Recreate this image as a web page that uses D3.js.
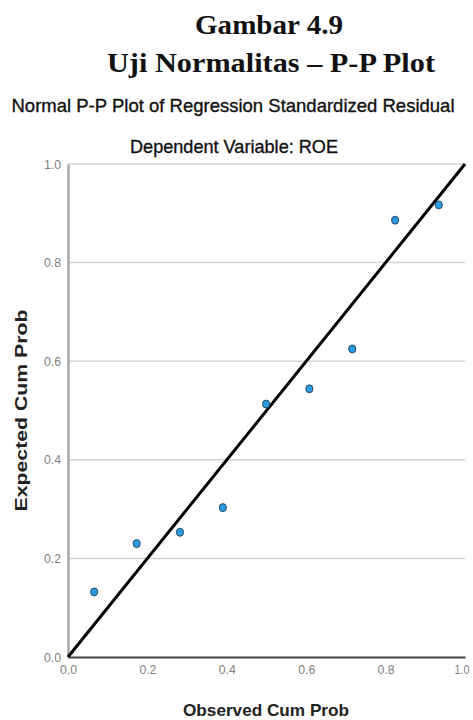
<!DOCTYPE html>
<html>
<head>
<meta charset="utf-8">
<script src="https://cdn.jsdelivr.net/npm/d3@7/dist/d3.min.js"></script>
<style>
  html, body { margin: 0; padding: 0; background: #fff; }
  svg { display: block; }
</style>
</head>
<body>
<svg id="chart" width="473" height="720"></svg>
<script>
// Data
const observedCumProb = [0.066, 0.173, 0.282, 0.390, 0.499, 0.608, 0.716, 0.824, 0.934];
const expectedCumProb = [0.132, 0.230, 0.253, 0.303, 0.513, 0.544, 0.625, 0.886, 0.917];
const xTicks = [0.0, 0.2, 0.4, 0.6, 0.8, 1.0];
const yTicks = [0.0, 0.2, 0.4, 0.6, 0.8, 1.0];
const diagonal = [[0, 0], [1, 1]];

const svg = d3.select("#chart");
const mLeft = 68, mRight = 465, mTop = 164, mBottom = 657;

const x = d3.scaleLinear().domain([0, 1]).range([mLeft, mRight]);
const y = d3.scaleLinear().domain([0, 1]).range([mBottom, mTop]);
const fmt = d3.format(".1f");
const sans = "'Liberation Sans', Arial, sans-serif";
const serif = "'Liberation Serif', 'Times New Roman', serif";

// Titles
svg.append("text").attr("x", 269).attr("y", 34)
  .attr("text-anchor", "middle")
  .attr("textLength", 148).attr("lengthAdjust", "spacingAndGlyphs")
  .style("font-family", serif)
  .style("font-weight", "bold").style("font-size", "27px")
  .attr("fill", "#111").text("Gambar 4.9");
svg.append("text").attr("x", 271).attr("y", 72)
  .attr("text-anchor", "middle")
  .attr("textLength", 328).attr("lengthAdjust", "spacingAndGlyphs")
  .style("font-family", serif)
  .style("font-weight", "bold").style("font-size", "27px")
  .attr("fill", "#111").text("Uji Normalitas – P-P Plot");

svg.append("text").attr("x", 233).attr("y", 112)
  .attr("text-anchor", "middle")
  .attr("textLength", 443).attr("lengthAdjust", "spacingAndGlyphs")
  .style("font-family", sans)
  .style("font-size", "19px").attr("fill", "#111")
  .attr("stroke", "#111").attr("stroke-width", 0.35)
  .text("Normal P-P Plot of Regression Standardized Residual");
svg.append("text").attr("x", 234).attr("y", 153)
  .attr("text-anchor", "middle")
  .attr("textLength", 208).attr("lengthAdjust", "spacingAndGlyphs")
  .style("font-family", sans)
  .style("font-size", "19px").attr("fill", "#111")
  .attr("stroke", "#111").attr("stroke-width", 0.35)
  .text("Dependent Variable: ROE");

// Gridlines
svg.append("g").selectAll("line").data(yTicks.filter(d => d > 0)).join("line")
  .attr("x1", mLeft).attr("x2", mRight)
  .attr("y1", d => y(d)).attr("y2", d => y(d))
  .attr("stroke", "#d4d4d4").attr("stroke-width", 1.5);

// Y axis
const yAxis = svg.append("g").attr("transform", `translate(${mLeft},0)`)
  .call(d3.axisLeft(y).tickValues(yTicks).tickFormat(fmt).tickSize(0).tickPadding(7));
yAxis.select(".domain").attr("stroke", "#a8a8a8").attr("stroke-width", 2.5);
yAxis.selectAll("text")
  .style("font-family", sans)
  .style("font-size", "13px").attr("fill", "#808080")
  .attr("textLength", 17).attr("lengthAdjust", "spacingAndGlyphs");

// X axis
const xAxis = svg.append("g").attr("transform", `translate(0,${mBottom})`)
  .call(d3.axisBottom(x).tickValues(xTicks).tickFormat(fmt).tickSize(0).tickPadding(8));
xAxis.select(".domain").attr("stroke", "#444").attr("stroke-width", 1.8);
xAxis.selectAll("text")
  .style("font-family", sans)
  .style("font-size", "13px").attr("fill", "#808080")
  .attr("textLength", 17).attr("lengthAdjust", "spacingAndGlyphs");
// keep the last label inside the canvas
xAxis.selectAll(".tick").filter(d => d === 1).select("text")
  .attr("text-anchor", "end").attr("x", 4).attr("textLength", 15);

// Axis titles
svg.append("text").attr("x", 266).attr("y", 716)
  .attr("text-anchor", "middle")
  .attr("textLength", 166).attr("lengthAdjust", "spacingAndGlyphs")
  .style("font-family", sans)
  .style("font-weight", "bold").style("font-size", "17px").attr("fill", "#222")
  .text("Observed Cum Prob");
svg.append("text")
  .attr("transform", `translate(27,${(mTop + mBottom) / 2}) rotate(-90)`)
  .attr("text-anchor", "middle")
  .attr("textLength", 202).attr("lengthAdjust", "spacingAndGlyphs")
  .style("font-family", sans)
  .style("font-weight", "bold").style("font-size", "17px").attr("fill", "#222")
  .text("Expected Cum Prob");

// Diagonal reference line
svg.append("path")
  .datum(diagonal)
  .attr("d", d3.line().x(d => x(d[0])).y(d => y(d[1])))
  .attr("stroke", "#000").attr("stroke-width", 3).attr("fill", "none");

// Points
svg.append("g").selectAll("ellipse")
  .data(observedCumProb.map((v, i) => [v, expectedCumProb[i]]))
  .join("ellipse")
  .attr("cx", d => x(d[0])).attr("cy", d => y(d[1]))
  .attr("rx", 3.6).attr("ry", 4)
  .attr("fill", "#2b9be0").attr("stroke", "#1f3f5a").attr("stroke-width", 0.9);
</script>
</body>
</html>
